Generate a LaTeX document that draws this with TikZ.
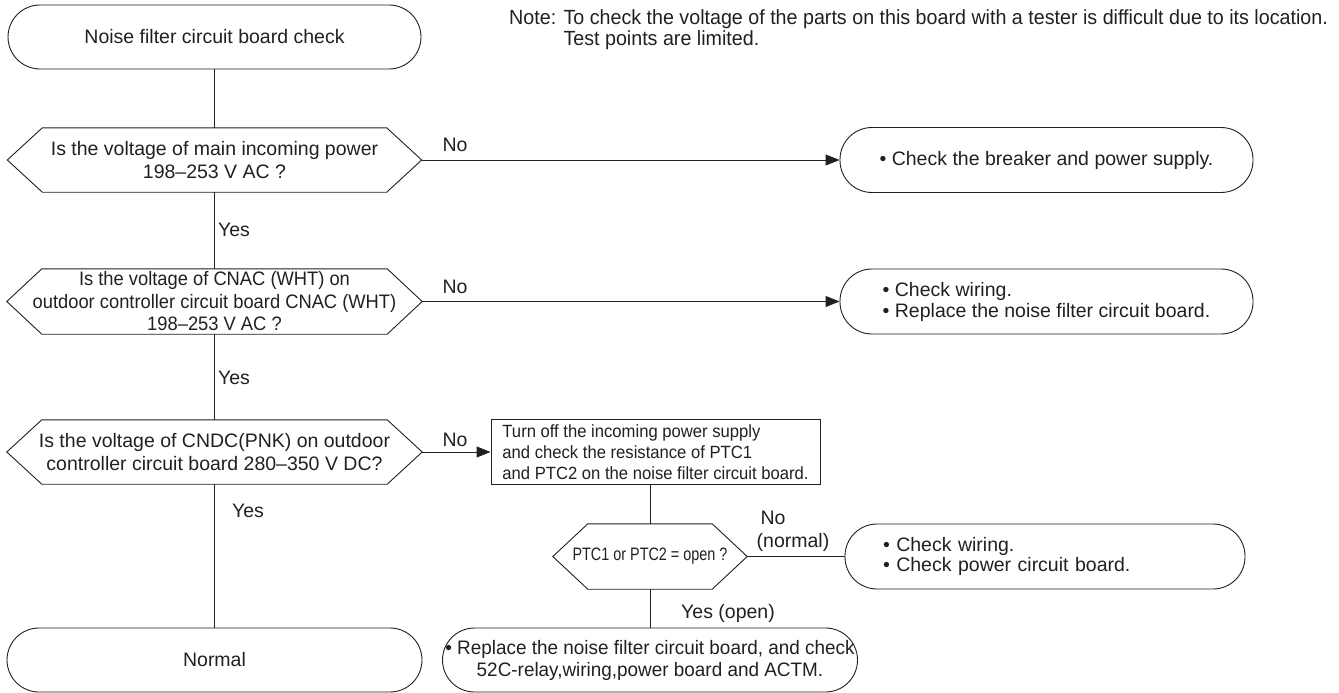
\documentclass[tikz,border=0pt]{standalone}
\usepackage{fontspec}
\setmainfont{Liberation Sans}
\newfontfamily\fnarrowbox[FakeStretch=0.94]{Liberation Sans}
\newfontfamily\fnarrowptc[FakeStretch=0.8]{Liberation Sans}
\newfontfamily\fnarrownote[FakeStretch=0.96]{Liberation Sans}
\newfontfamily\fsemi[FakeStretch=0.97]{Liberation Sans}
\newfontfamily\fdectwo[FakeStretch=0.94]{Liberation Sans}
\usetikzlibrary{arrows.meta}
\definecolor{ink}{HTML}{231F20}
\newcommand\fmain{\fontsize{19.5}{23.4}\selectfont}
\newcommand\hexpath[2]{\draw[line] ([xshift=#2]#1.north west) -- ([xshift=-#2]#1.north east) -- (#1.east) -- ([xshift=-#2]#1.south east) -- ([xshift=#2]#1.south west) -- (#1.west) -- cycle;}
\begin{document}
\begin{tikzpicture}[x=1pt,y=-1pt,
  base/.style={inner sep=0pt, text=ink, font=\fmain},
  line/.style={draw=ink, line width=0.9pt},
  arr/.style={line, -{Triangle[length=14pt,width=11pt]}},
  term/.style={base, draw=ink, line width=0.9pt, rounded corners=32pt, minimum height=65pt, align=center},
  termL/.style={term, align=left, inner xsep=38pt, text width=#1},
  dec/.style={base, minimum height=64pt, align=center},
  lab/.style={base}]
\useasboundingbox (0,0) rectangle (1339,693);
% left column
\node[term, minimum width=413pt, minimum height=64pt] (start) at (214.5,37) {Noise filter circuit board check};
\node[dec, minimum width=414pt] (d1) at (214.5,160) {Is the voltage of main incoming power\\198–253 V AC ?};
\hexpath{d1}{35pt}
\node[dec, minimum width=415pt, minimum height=65pt, font=\fdectwo\fontsize{19.5}{22.5}\selectfont] (d2) at (214.5,301.5) {Is the voltage of CNAC (WHT) on\\outdoor controller circuit board CNAC (WHT)\\198–253 V AC ?};
\hexpath{d2}{35pt}
\node[dec, minimum width=415pt] (d3) at (214.5,452) {Is the voltage of CNDC(PNK) on outdoor\\controller circuit board 280–350 V DC?};
\hexpath{d3}{35pt}
\node[term, minimum width=415pt, minimum height=64pt] (normal) at (214.5,660) {Normal};
% right column
\node[term, align=left, minimum width=413pt] (t1) at (1046.5,160) {• Check the breaker and power supply.};
\node[term, align=left, minimum width=413pt, font=\fmain\fontsize{19.5}{21}\selectfont] (t2) at (1046.5,301.5) {• Check wiring.\\• Replace the noise filter circuit board.};
\node[base, draw=ink, line width=0.9pt, font=\fnarrowbox\fontsize{17.7}{21}\selectfont, align=left, minimum width=329pt, minimum height=65pt] (box) at (655.5,452) {Turn off the incoming power supply\\and check the resistance of PTC1\\and PTC2 on the noise filter circuit board.};
\node[dec, minimum width=194pt, minimum height=65pt, font=\fnarrowptc\fontsize{18}{21}\selectfont] (ptc) at (650,556.5) {PTC1 or PTC2 = open ?};
\hexpath{ptc}{35pt}
\node[termL=324pt, font=\fmain\fontsize{19.5}{20.5}\selectfont] (t3) at (1045,556.5) {• Check wiring.\\• Check power circuit board.};
\node[term, minimum width=415pt, minimum height=64pt, font=\fsemi\fontsize{19.5}{22}\selectfont] (t4) at (650,660) {• Replace the noise filter circuit board, and check\\52C-relay,wiring,power board and ACTM.};
% note
\node[base, font=\fnarrownote\fontsize{20.5}{21}\selectfont, align=left, anchor=west] (note) at (509,29.5) {Note: To check the voltage of the parts on this board with a tester is difficult due to its location.\\\phantom{Note: }Test points are limited.};
% connectors
\draw[line] (start.south) -- (d1.north);
\draw[line] (d1.south) -- (d2.north);
\draw[line] (d2.south) -- (d3.north);
\draw[line] (d3.south) -- (normal.north);
\draw[arr] (d1.east) -- (t1.west);
\draw[arr] (d2.east) -- (t2.west);
\draw[arr] (d3.east) -- (box.west);
\draw[line] (box.south -| ptc.north) -- (ptc.north);
\draw[line] (ptc.east) -- (t3.west);
\draw[line] (ptc.south) -- (t4.north);
% labels
\node[lab] (l1) at (455,145) {No};
\node[lab] (l2) at (455,287) {No};
\node[lab] (l3) at (455,440) {No};
\node[lab] (y1) at (234,230) {Yes};
\node[lab] (y2) at (234,378) {Yes};
\node[lab] (y3) at (248,511) {Yes};
\node[lab] (l4) at (773,518) {No};
\node[lab] (l5) at (793,542) {(normal)};
\node[lab] (y4) at (728,613) {Yes (open)};
\end{tikzpicture}
\end{document}
